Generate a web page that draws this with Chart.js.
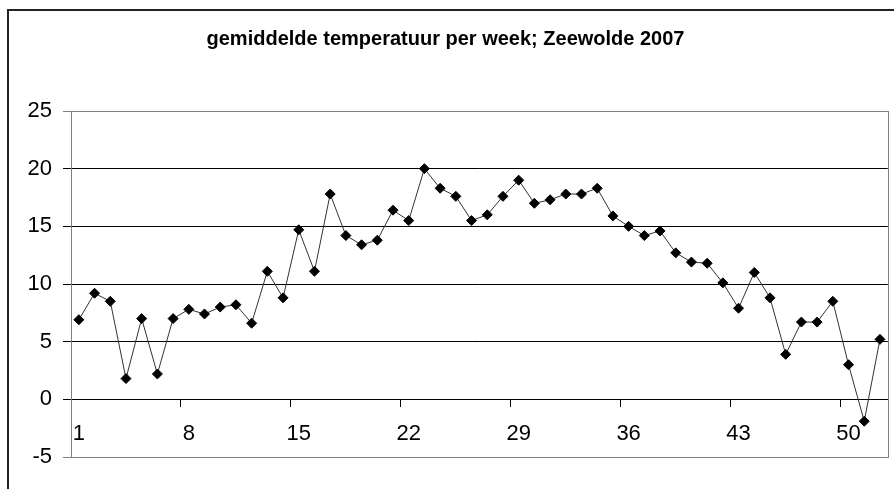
<!DOCTYPE html>
<html>
<head>
<meta charset="utf-8">
<script src="https://cdn.jsdelivr.net/npm/chart.js@4/dist/chart.umd.min.js"></script>
<style>
  html, body { margin: 0; padding: 0; background: #fff; overflow: hidden; }
  #frame { position: absolute; left: 7px; top: 9px; width: 1000px; height: 600px; border: 2px solid #222; }
  #wrap { position: absolute; left: 0; top: 0; width: 894px; height: 489px; }
</style>
</head>
<body>
<div id="frame"></div>
<div id="wrap"><canvas id="chart"></canvas></div>
<script>
const chartTitle = 'gemiddelde temperatuur per week; Zeewolde 2007';
const weeks = Array.from({ length: 52 }, (_, i) => String(i + 1));
const temps = [
    6.9, 9.2, 8.5, 1.8, 7.0, 2.2, 7.0, 7.8, 7.4, 8.0,
    8.2, 6.6, 11.1, 8.8, 14.7, 11.1, 17.8, 14.2, 13.4, 13.8,
    16.4, 15.5, 20.0, 18.3, 17.6, 15.5, 16.0, 17.6, 19.0, 17.0,
    17.3, 17.8, 17.8, 18.3, 15.9, 15.0, 14.2, 14.6, 12.7, 11.9,
    11.8, 10.1, 7.9, 11.0, 8.8, 3.9, 6.7, 6.7, 8.5, 3.0,
    -1.9, 5.2
];
const yMin = -5, yMax = 25, yStep = 5;
const labelEvery = 7;

const FONT = '"Liberation Sans Narrow", "Arial Narrow", "Liberation Sans", Arial, sans-serif';

// grey frame round the plot area (Excel style)
const plotBorder = {
    id: 'plotBorder',
    beforeDatasetsDraw(chart) {
        const { ctx, chartArea: a } = chart;
        ctx.save();
        ctx.strokeStyle = '#808080';
        ctx.lineWidth = 1;
        ctx.strokeRect(Math.round(a.left) + 0.5, Math.round(a.top) + 0.5,
            Math.round(a.right - a.left), Math.round(a.bottom - a.top));
        ctx.restore();
    }
};

new Chart(document.getElementById('chart'), {
    type: 'line',
    data: {
        labels: weeks,
        datasets: [{
            data: temps,
            borderColor: '#333',
            borderWidth: 1,
            pointStyle: 'rectRot',
            pointRadius: 5,
            pointBackgroundColor: '#000',
            pointBorderColor: '#000',
            pointBorderWidth: 1,
            tension: 0
        }]
    },
    options: {
        responsive: true,
        maintainAspectRatio: false,
        animation: false,
        layout: { padding: { left: 0, right: 3, top: 0, bottom: 32 } },
        plugins: {
            legend: { display: false },
            tooltip: { enabled: false },
            title: {
                display: true,
                text: chartTitle,
                color: '#000',
                font: { family: FONT, size: 20, weight: 'bold' },
                padding: { top: 27, bottom: 60 }
            }
        },
        scales: {
            x: {
                type: 'category',
                position: { y: 0 },
                offset: true,
                grid: {
                    offset: true,
                    drawOnChartArea: false,
                    drawTicks: true,
                    tickLength: 7,
                    color: c => c.index % labelEvery === 0 ? '#000' : 'rgba(0,0,0,0)'
                },
                border: { color: '#000', width: 1 },
                ticks: {
                    autoSkip: false,
                    maxRotation: 0,
                    padding: 14,
                    color: '#000',
                    font: { family: FONT, size: 22 },
                    callback: (v, i) => i % labelEvery === 0 ? weeks[i] : ''
                }
            },
            y: {
                min: yMin,
                max: yMax,
                afterFit: s => { s.width = 71; },
                grid: {
                    color: c => (c.tick && (c.tick.value === yMin || c.tick.value === yMax)) ? '#808080' : '#000',
                    lineWidth: 1,
                    drawTicks: true,
                    tickLength: 8
                },
                border: { color: '#808080', width: 1 },
                ticks: {
                    stepSize: yStep,
                    padding: 11,
                    color: '#000',
                    font: { family: FONT, size: 22 }
                }
            }
        }
    },
    plugins: [plotBorder]
});
</script>
</body>
</html>
